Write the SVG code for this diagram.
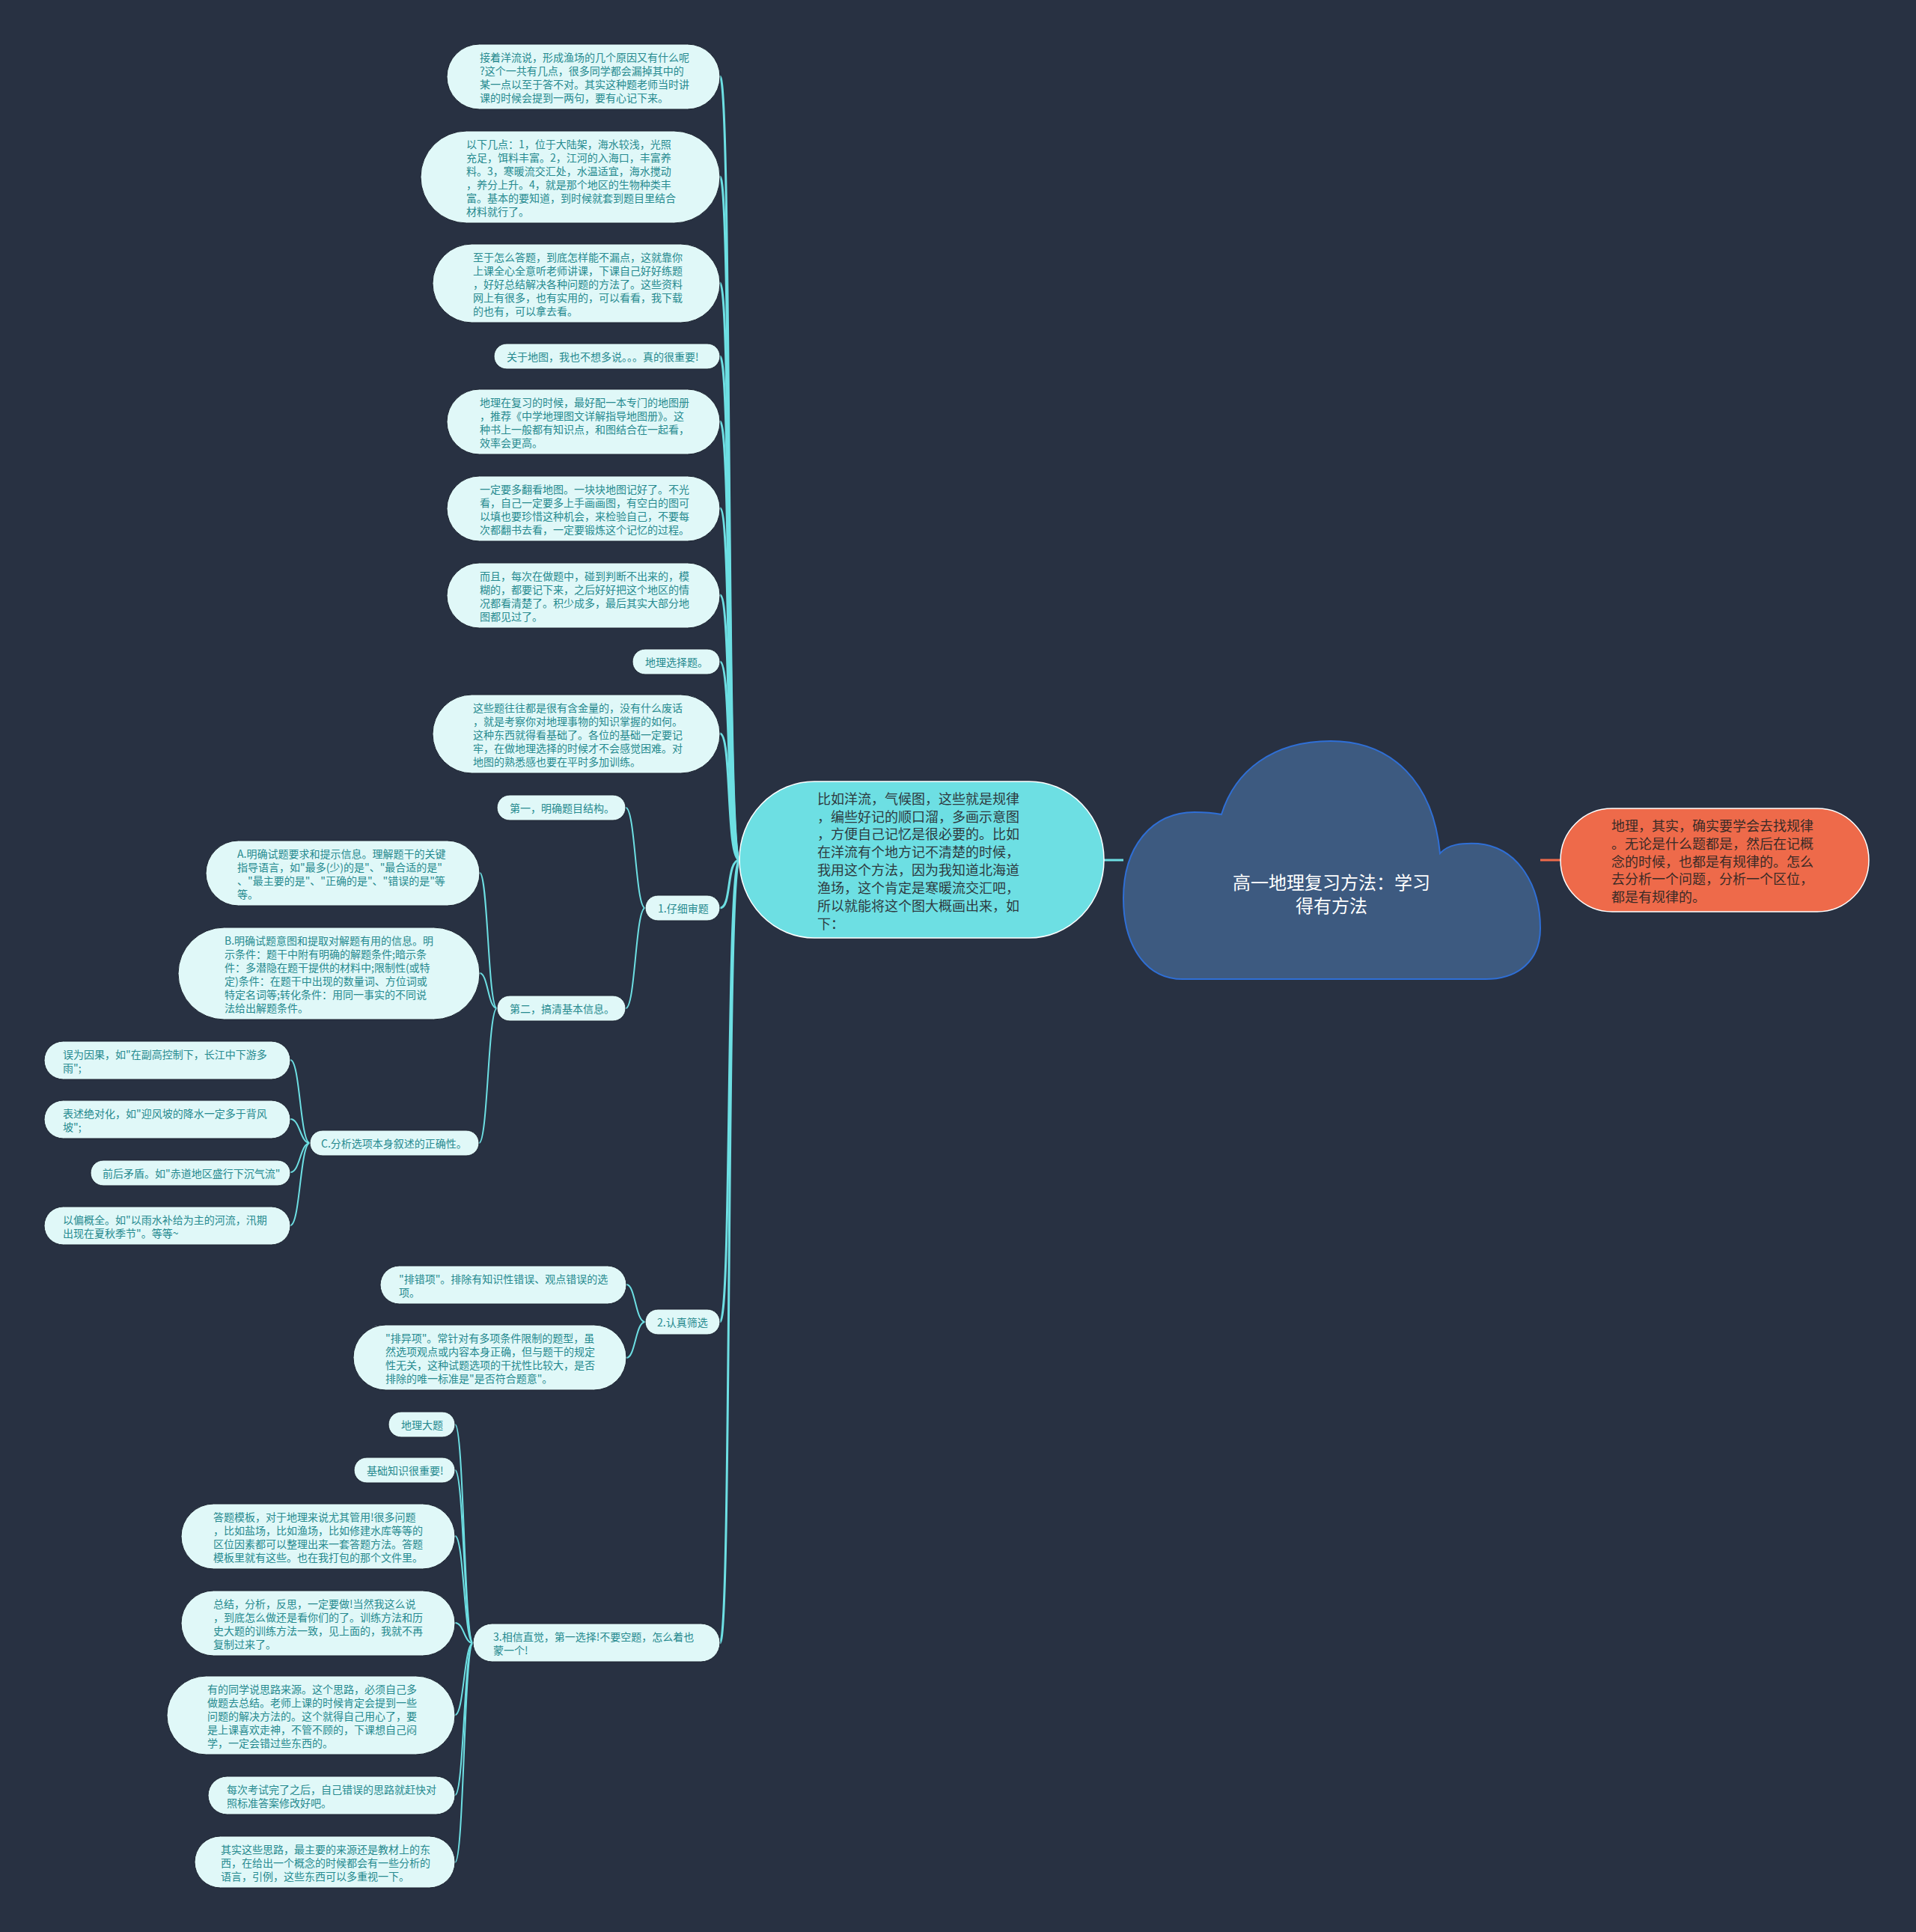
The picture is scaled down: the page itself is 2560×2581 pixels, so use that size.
<svg xmlns="http://www.w3.org/2000/svg" width="2560" height="2581" viewBox="0 0 2560 2581">
<style>
.bg{fill:#283142}
.leaf rect{fill:#e0f8f8;stroke:#1c2330;stroke-width:1}
.leaf text{font-family:"Noto Sans CJK SC","Noto Sans",sans-serif;font-size:14px;fill:#268a8f;dominant-baseline:central}
.c1{fill:none;stroke:#6ddfe3;stroke-width:3}
.c2{fill:none;stroke:#6ddfe3;stroke-width:2}
.main rect{fill:#6ddfe3;stroke:#ffffff;stroke-width:1.5}
.main text{font-family:"Noto Sans CJK SC","Noto Sans",sans-serif;font-size:18px;fill:#2e3a40;dominant-baseline:central}
.orange rect{fill:#ee6a4a;stroke:#ffffff;stroke-width:1.5}
.orange text{font-family:"Noto Sans CJK SC","Noto Sans",sans-serif;font-size:18px;fill:#3a2a26;dominant-baseline:central}
.root path{fill:#3d5a80;stroke:#2f6fd6;stroke-width:2}
.root text{font-family:"Noto Sans CJK SC","Noto Sans",sans-serif;font-size:24px;fill:#ffffff;dominant-baseline:central;text-anchor:middle}
</style>
<rect class="bg" x="0" y="0" width="2560" height="2581"/>

<g id="connectors">
  <line x1="2058" y1="1149" x2="2085" y2="1149" stroke="#ee6a4a" stroke-width="3"/>
  <line x1="1475" y1="1149" x2="1501" y2="1149" stroke="#6ddfe3" stroke-width="3"/>
  <path class="c1" d="M988,1149 C970,1149 978,102 962,102"/>
  <path class="c1" d="M988,1149 C970,1149 978,236 962,236"/>
  <path class="c1" d="M988,1149 C970,1149 978,378 962,378"/>
  <path class="c1" d="M988,1149 C970,1149 978,476 962,476"/>
  <path class="c1" d="M988,1149 C970,1149 978,563 962,563"/>
  <path class="c1" d="M988,1149 C970,1149 978,679 962,679"/>
  <path class="c1" d="M988,1149 C970,1149 978,795 962,795"/>
  <path class="c1" d="M988,1149 C970,1149 978,884 962,884"/>
  <path class="c1" d="M988,1149 C970,1149 978,980 962,980"/>
  <path class="c1" d="M988,1149 C970,1149 978,1213 962,1213"/>
  <path class="c1" d="M988,1149 C970,1149 978,1766 962,1766"/>
  <path class="c1" d="M988,1149 C970,1149 978,2195 962,2195"/>
  <path class="c2" d="M862,1213 C849,1213 849,1079 836,1079"/>
  <path class="c2" d="M862,1213 C849,1213 849,1347 836,1347"/>
  <path class="c2" d="M664,1347 C652,1347 652,1166 641,1166"/>
  <path class="c2" d="M664,1347 C652,1347 652,1300 641,1300"/>
  <path class="c2" d="M664,1347 C652,1347 652,1527 640,1527"/>
  <path class="c2" d="M414,1527 C401,1527 401,1416 388,1416"/>
  <path class="c2" d="M414,1527 C401,1527 401,1495 388,1495"/>
  <path class="c2" d="M414,1527 C401,1527 401,1566 388,1566"/>
  <path class="c2" d="M414,1527 C401,1527 401,1637 388,1637"/>
  <path class="c2" d="M862,1766 C849,1766 849,1716 837,1716"/>
  <path class="c2" d="M862,1766 C849,1766 849,1814 837,1814"/>
  <path class="c2" d="M632,2195 C620,2195 620,1903 608,1903"/>
  <path class="c2" d="M632,2195 C620,2195 620,1964 608,1964"/>
  <path class="c2" d="M632,2195 C620,2195 620,2052 608,2052"/>
  <path class="c2" d="M632,2195 C620,2195 620,2168 608,2168"/>
  <path class="c2" d="M632,2195 C620,2195 620,2291 608,2291"/>
  <path class="c2" d="M632,2195 C620,2195 620,2398 608,2398"/>
  <path class="c2" d="M632,2195 C620,2195 620,2488 608,2488"/>
</g>

<g id="root" class="root">
  <path d="M1632,1088 C1650,1030 1700,990 1778,990 C1860,990 1915,1045 1924,1140 C1935,1128 1952,1126 1975,1127 C2030,1132 2058,1185 2058,1240 C2058,1282 2030,1308 1985,1308 L1580,1308 C1530,1308 1501,1262 1501,1200 C1501,1130 1540,1085 1596,1085 C1610,1085 1622,1086 1632,1088 Z"/>
  <text x="1779" y="1177">高一地理复习方法：学习</text>
  <text x="1779" y="1208">得有方法</text>
</g>

<g id="orange" class="orange">
  <rect x="2085" y="1080" width="412" height="138" rx="69" ry="69"/>
  <text><tspan x="2153" y="1102">地理，其实，确实要学会去找规律</tspan><tspan x="2153" y="1126">。无论是什么题都是，然后在记概</tspan><tspan x="2153" y="1150">念的时候，也都是有规律的。怎么</tspan><tspan x="2153" y="1173">去分析一个问题，分析一个区位，</tspan><tspan x="2153" y="1197">都是有规律的。</tspan></text>
</g>

<g id="main" class="main">
  <rect x="988" y="1044" width="487" height="209" rx="100" ry="104"/>
  <text><tspan x="1092" y="1066">比如洋流，气候图，这些就是规律</tspan><tspan x="1092" y="1090">，编些好记的顺口溜，多画示意图</tspan><tspan x="1092" y="1113">，方便自己记忆是很必要的。比如</tspan><tspan x="1092" y="1137">在洋流有个地方记不清楚的时候，</tspan><tspan x="1092" y="1161">我用这个方法，因为我知道北海道</tspan><tspan x="1092" y="1185">渔场，这个肯定是寒暖流交汇吧，</tspan><tspan x="1092" y="1209">所以就能将这个图大概画出来，如</tspan><tspan x="1092" y="1233">下：</tspan></text>
</g>

<g id="n1" class="leaf">
  <rect x="597" y="59" width="365" height="87" rx="43.5"/>
  <text><tspan x="641" y="75.5">接着洋流说，形成渔场的几个原因又有什么呢</tspan><tspan x="641" y="93.5">?这个一共有几点，很多同学都会漏掉其中的</tspan><tspan x="641" y="111.5">某一点以至于答不对。其实这种题老师当时讲</tspan><tspan x="641" y="129.5">课的时候会提到一两句，要有心记下来。</tspan></text>
</g>
<g id="n2" class="leaf">
  <rect x="562" y="175" width="400" height="123" rx="61.5"/>
  <text><tspan x="623" y="191.5">以下几点：1，位于大陆架，海水较浅，光照</tspan><tspan x="623" y="209.5">充足，饵料丰富。2，江河的入海口，丰富养</tspan><tspan x="623" y="227.5">料。3，寒暖流交汇处，水温适宜，海水搅动</tspan><tspan x="623" y="245.5">，养分上升。4，就是那个地区的生物种类丰</tspan><tspan x="623" y="263.5">富。基本的要知道，到时候就套到题目里结合</tspan><tspan x="623" y="281.5">材料就行了。</tspan></text>
</g>
<g id="n3" class="leaf">
  <rect x="578" y="326" width="384" height="105" rx="52.5"/>
  <text><tspan x="632" y="342.5">至于怎么答题，到底怎样能不漏点，这就靠你</tspan><tspan x="632" y="360.5">上课全心全意听老师讲课，下课自己好好练题</tspan><tspan x="632" y="378.5">，好好总结解决各种问题的方法了。这些资料</tspan><tspan x="632" y="396.5">网上有很多，也有实用的，可以看看，我下载</tspan><tspan x="632" y="414.5">的也有，可以拿去看。</tspan></text>
</g>
<g id="n4" class="leaf">
  <rect x="660" y="459" width="302" height="34" rx="17"/>
  <text x="677" y="476">关于地图，我也不想多说。。。真的很重要!</text>
</g>
<g id="n5" class="leaf">
  <rect x="597" y="520" width="365" height="87" rx="43.5"/>
  <text><tspan x="641" y="537">地理在复习的时候，最好配一本专门的地图册</tspan><tspan x="641" y="555">，推荐《中学地理图文详解指导地图册》。这</tspan><tspan x="641" y="573">种书上一般都有知识点，和图结合在一起看，</tspan><tspan x="641" y="591">效率会更高。</tspan></text>
</g>
<g id="n6" class="leaf">
  <rect x="597" y="636" width="365" height="87" rx="43.5"/>
  <text><tspan x="641" y="653">一定要多翻看地图。一块块地图记好了。不光</tspan><tspan x="641" y="671">看，自己一定要多上手画画图，有空白的图可</tspan><tspan x="641" y="689">以填也要珍惜这种机会，来检验自己，不要每</tspan><tspan x="641" y="707">次都翻书去看，一定要锻炼这个记忆的过程。</tspan></text>
</g>
<g id="n7" class="leaf">
  <rect x="597" y="752" width="365" height="87" rx="43.5"/>
  <text><tspan x="641" y="769">而且，每次在做题中，碰到判断不出来的，模</tspan><tspan x="641" y="787">糊的，都要记下来，之后好好把这个地区的情</tspan><tspan x="641" y="805">况都看清楚了。积少成多，最后其实大部分地</tspan><tspan x="641" y="823">图都见过了。</tspan></text>
</g>
<g id="n8" class="leaf">
  <rect x="845" y="867" width="117" height="34" rx="17"/>
  <text x="862" y="884">地理选择题。</text>
</g>
<g id="n9" class="leaf">
  <rect x="578" y="928" width="384" height="105" rx="52.5"/>
  <text><tspan x="632" y="945">这些题往往都是很有含金量的，没有什么废话</tspan><tspan x="632" y="963">，就是考察你对地理事物的知识掌握的如何。</tspan><tspan x="632" y="981">这种东西就得看基础了。各位的基础一定要记</tspan><tspan x="632" y="999">牢，在做地理选择的时候才不会感觉困难。对</tspan><tspan x="632" y="1017">地图的熟悉感也要在平时多加训练。</tspan></text>
</g>

<g id="l1" class="leaf">
  <rect x="862" y="1196" width="100" height="34" rx="17"/>
  <text x="879" y="1213">1.仔细审题</text>
</g>
<g id="l1a" class="leaf">
  <rect x="664" y="1062" width="172" height="34" rx="17"/>
  <text x="681" y="1079">第一，明确题目结构。</text>
</g>
<g id="l1b" class="leaf">
  <rect x="664" y="1330" width="172" height="34" rx="17"/>
  <text x="681" y="1347">第二，搞清基本信息。</text>
</g>
<g id="bA" class="leaf">
  <rect x="275" y="1123" width="366" height="87" rx="43.5"/>
  <text><tspan x="317" y="1140">A.明确试题要求和提示信息。理解题干的关键</tspan><tspan x="317" y="1158">指导语言，如"最多(少)的是"、"最合适的是"</tspan><tspan x="317" y="1176">、"最主要的是"、"正确的是"、"错误的是"等</tspan><tspan x="317" y="1194">等。</tspan></text>
</g>
<g id="bB" class="leaf">
  <rect x="238" y="1239" width="403" height="123" rx="61.5"/>
  <text><tspan x="300" y="1255.5">B.明确试题意图和提取对解题有用的信息。明</tspan><tspan x="300" y="1273.5">示条件：题干中附有明确的解题条件;暗示条</tspan><tspan x="300" y="1291.5">件：多潜隐在题干提供的材料中;限制性(或特</tspan><tspan x="300" y="1309.5">定)条件：在题干中出现的数量词、方位词或</tspan><tspan x="300" y="1327.5">特定名词等;转化条件：用同一事实的不同说</tspan><tspan x="300" y="1345.5">法给出解题条件。</tspan></text>
</g>
<g id="bC" class="leaf">
  <rect x="414" y="1510" width="226" height="34" rx="17"/>
  <text x="429" y="1527">C.分析选项本身叙述的正确性。</text>
</g>
<g id="c1" class="leaf">
  <rect x="59" y="1391" width="329" height="51" rx="25.5"/>
  <text><tspan x="84" y="1407.5">误为因果，如"在副高控制下，长江中下游多</tspan><tspan x="84" y="1425.5">雨";</tspan></text>
</g>
<g id="c2" class="leaf">
  <rect x="59" y="1470" width="329" height="51" rx="25.5"/>
  <text><tspan x="84" y="1486.5">表述绝对化，如"迎风坡的降水一定多于背风</tspan><tspan x="84" y="1504.5">坡";</tspan></text>
</g>
<g id="c3" class="leaf">
  <rect x="121" y="1550" width="267" height="34" rx="17"/>
  <text x="137" y="1567">前后矛盾。如"赤道地区盛行下沉气流"</text>
</g>
<g id="c4" class="leaf">
  <rect x="59" y="1612" width="329" height="51" rx="25.5"/>
  <text><tspan x="84" y="1628.5">以偏概全。如"以雨水补给为主的河流，汛期</tspan><tspan x="84" y="1646.5">出现在夏秋季节"。等等~</tspan></text>
</g>

<g id="l2" class="leaf">
  <rect x="862" y="1749" width="100" height="34" rx="17"/>
  <text x="878" y="1766">2.认真筛选</text>
</g>
<g id="e1" class="leaf">
  <rect x="508" y="1691" width="329" height="51" rx="25.5"/>
  <text><tspan x="533" y="1707.5">"排错项"。排除有知识性错误、观点错误的选</tspan><tspan x="533" y="1725.5">项。</tspan></text>
</g>
<g id="e2" class="leaf">
  <rect x="472" y="1770" width="365" height="87" rx="43.5"/>
  <text><tspan x="515" y="1787">"排异项"。常针对有多项条件限制的题型，虽</tspan><tspan x="515" y="1805">然选项观点或内容本身正确，但与题干的规定</tspan><tspan x="515" y="1823">性无关，这种试题选项的干扰性比较大，是否</tspan><tspan x="515" y="1841">排除的唯一标准是"是否符合题意"。</tspan></text>
</g>

<g id="l3" class="leaf">
  <rect x="632" y="2169" width="330" height="51" rx="25.5"/>
  <text><tspan x="659" y="2185.5">3.相信直觉，第一选择!不要空题，怎么着也</tspan><tspan x="659" y="2203.5">蒙一个!</tspan></text>
</g>
<g id="d1" class="leaf">
  <rect x="519" y="1886" width="89" height="34" rx="17"/>
  <text x="536" y="1903">地理大题</text>
</g>
<g id="d2" class="leaf">
  <rect x="473" y="1947" width="135" height="34" rx="17"/>
  <text x="490" y="1964">基础知识很重要!</text>
</g>
<g id="d3" class="leaf">
  <rect x="242" y="2009" width="366" height="87" rx="43.5"/>
  <text><tspan x="285" y="2025.5">答题模板，对于地理来说尤其管用!很多问题</tspan><tspan x="285" y="2043.5">，比如盐场，比如渔场，比如修建水库等等的</tspan><tspan x="285" y="2061.5">区位因素都可以整理出来一套答题方法。答题</tspan><tspan x="285" y="2079.5">模板里就有这些。也在我打包的那个文件里。</tspan></text>
</g>
<g id="d4" class="leaf">
  <rect x="242" y="2125" width="366" height="87" rx="43.5"/>
  <text><tspan x="285" y="2141.5">总结，分析，反思，一定要做!当然我这么说</tspan><tspan x="285" y="2159.5">，到底怎么做还是看你们的了。训练方法和历</tspan><tspan x="285" y="2177.5">史大题的训练方法一致，见上面的，我就不再</tspan><tspan x="285" y="2195.5">复制过来了。</tspan></text>
</g>
<g id="d5" class="leaf">
  <rect x="223" y="2239" width="385" height="105" rx="52.5"/>
  <text><tspan x="277" y="2255.5">有的同学说思路来源。这个思路，必须自己多</tspan><tspan x="277" y="2273.5">做题去总结。老师上课的时候肯定会提到一些</tspan><tspan x="277" y="2291.5">问题的解决方法的。这个就得自己用心了，要</tspan><tspan x="277" y="2309.5">是上课喜欢走神，不管不顾的，下课想自己闷</tspan><tspan x="277" y="2327.5">学，一定会错过些东西的。</tspan></text>
</g>
<g id="d6" class="leaf">
  <rect x="278" y="2373" width="330" height="51" rx="25.5"/>
  <text><tspan x="303" y="2389.5">每次考试完了之后，自己错误的思路就赶快对</tspan><tspan x="303" y="2407.5">照标准答案修改好吧。</tspan></text>
</g>
<g id="d7" class="leaf">
  <rect x="260" y="2453" width="348" height="69" rx="34.5"/>
  <text><tspan x="295" y="2469.5">其实这些思路，最主要的来源还是教材上的东</tspan><tspan x="295" y="2487.5">西，在给出一个概念的时候都会有一些分析的</tspan><tspan x="295" y="2505.5">语言，引例，这些东西可以多重视一下。</tspan></text>
</g>
</svg>
